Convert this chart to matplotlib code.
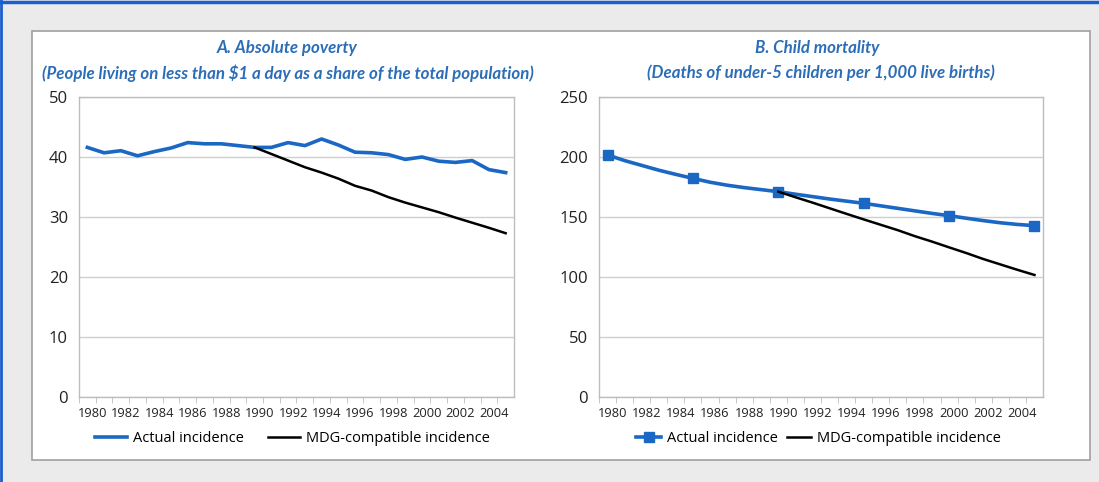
import matplotlib.pyplot as plt
import matplotlib.transforms as mtransforms
from matplotlib.patches import Rectangle
from matplotlib.lines import Line2D

years = list(range(1980, 2006))

# Panel A: absolute poverty (% of population)
poverty_actual = [41.6, 40.7, 41.05, 40.2, 40.9, 41.5, 42.4, 42.2, 42.2, 41.9,
                  41.6, 41.6, 42.4, 41.9, 43.0, 42.0, 40.8, 40.7, 40.4, 39.6,
                  40.0, 39.3, 39.1, 39.4, 37.9, 37.4]
mdg_years = list(range(1990, 2006))
poverty_mdg = [41.6, 40.5, 39.4, 38.3, 37.4, 36.4, 35.2, 34.4, 33.3, 32.4,
               31.6, 30.8, 29.9, 29.05, 28.2, 27.3]

# Panel B: child mortality (deaths per 1,000 live births)
mortality_actual = [201.7, 197.0, 193.0, 189.0, 185.5, 182.2, 179.0, 176.5, 174.5, 172.8,
                    171.1, 169.0, 167.0, 165.0, 163.2, 161.4, 159.3, 157.2, 155.1, 153.0,
                    151.1, 149.0, 147.0, 145.2, 143.8, 142.8]
mortality_mdg = [171.1, 166.5, 162.0, 157.3, 152.6, 148.0, 143.5, 139.0, 134.0, 129.5,
                 124.7, 120.0, 115.0, 110.5, 106.0, 101.7]
marker_years = [1980, 1985, 1990, 1995, 2000, 2005]

label_years = list(range(1980, 2005, 2))

BLUE = '#1a68c4'
TITLE_BLUE = '#2c6db8'
GRID = '#cfcfcf'

fig = plt.figure(figsize=(10.99, 4.82), dpi=100)
fig.patch.set_facecolor('#ebebeb')

# white inner panel and outer blue frame
fig.add_artist(Rectangle((32 / 1099, 1 - 460 / 482), (1090 - 32) / 1099, (460 - 31) / 482,
                         transform=fig.transFigure, facecolor='white',
                         edgecolor='#a0a0a0', linewidth=1.2, zorder=0))
fig.add_artist(Line2D([0, 1], [1 - 2 / 482, 1 - 2 / 482], transform=fig.transFigure,
                      color='#1a5fd0', linewidth=2.5))
fig.add_artist(Line2D([1 / 1099, 1 / 1099], [0, 1], transform=fig.transFigure,
                      color='#1a5fd0', linewidth=2))

ax1 = fig.add_axes([79 / 1099, 85 / 482, 435 / 1099, 300 / 482])
ax2 = fig.add_axes([599 / 1099, 85 / 482, 444 / 1099, 300 / 482])


def style_axis(ax, ymax, step):
    ax.set_xlim(1979.5, 2005.5)
    ax.set_ylim(0, ymax)
    ax.set_yticks(range(0, ymax + 1, step))
    ax.yaxis.grid(True, color=GRID, linewidth=1)
    ax.set_axisbelow(True)
    for s in ax.spines.values():
        s.set_color('#bdbdbd')
        s.set_linewidth(1)
    ax.tick_params(axis='y', length=0, labelsize=12, pad=8, labelcolor='#222222')
    ax.set_xticks(label_years)
    ax.set_xticks([y + 0.5 for y in range(1979, 2005)], minor=True)
    ax.tick_params(axis='x', which='major', length=0, labelsize=9.3, pad=7, labelcolor='#222222')
    ax.tick_params(axis='x', which='minor', length=4, color='#bdbdbd', direction='out')
    offset = mtransforms.ScaledTranslation(5 / 100, 0, fig.dpi_scale_trans)
    for lab in ax.get_xticklabels():
        lab.set_transform(lab.get_transform() + offset)
    for lab in ax.get_xticklabels() + ax.get_yticklabels():
        lab.set_fontfamily('Open Sans')


style_axis(ax1, 50, 10)
style_axis(ax2, 250, 50)

ax1.plot(years, poverty_actual, color=BLUE, linewidth=2.6, label='Actual incidence')
ax1.plot(mdg_years, poverty_mdg, color='black', linewidth=1.8, label='MDG-compatible incidence')

ax2.plot(years, mortality_actual, color=BLUE, linewidth=2.6, marker='s', markersize=7.5,
         markevery=[years.index(y) for y in marker_years], label='Actual incidence')
ax2.plot(mdg_years, mortality_mdg, color='black', linewidth=1.8, label='MDG-compatible incidence')

title_kw = dict(color=TITLE_BLUE, fontsize=12.2, style='italic', fontweight='bold', family='Lato',
                ha='center', va='center', transform=fig.transFigure)
fig.text(287 / 1099, 1 - 48 / 482, 'A. Absolute poverty', **title_kw)
fig.text(288 / 1099, 1 - 73 / 482,
         '(People living on less than $1 a day as a share of the total population)', **title_kw)
fig.text(817 / 1099, 1 - 48 / 482, 'B. Child mortality', **title_kw)
fig.text(821 / 1099, 1 - 73 / 482, '(Deaths of under-5 children per 1,000 live births)', **title_kw)

leg_kw = dict(loc='center', ncol=2, frameon=False, handlelength=2.2, handletextpad=0.4,
              columnspacing=1.65, prop={'family': 'Open Sans', 'size': 10.5})
ax1.legend(bbox_to_anchor=(0.49, -0.14), **leg_kw)
leg_kw['columnspacing'] = 0.6
leg_kw['handlelength'] = 1.7
ax2.legend(bbox_to_anchor=(0.495, -0.14), **leg_kw)

fig.savefig('out.png', dpi=100, facecolor=fig.get_facecolor())
